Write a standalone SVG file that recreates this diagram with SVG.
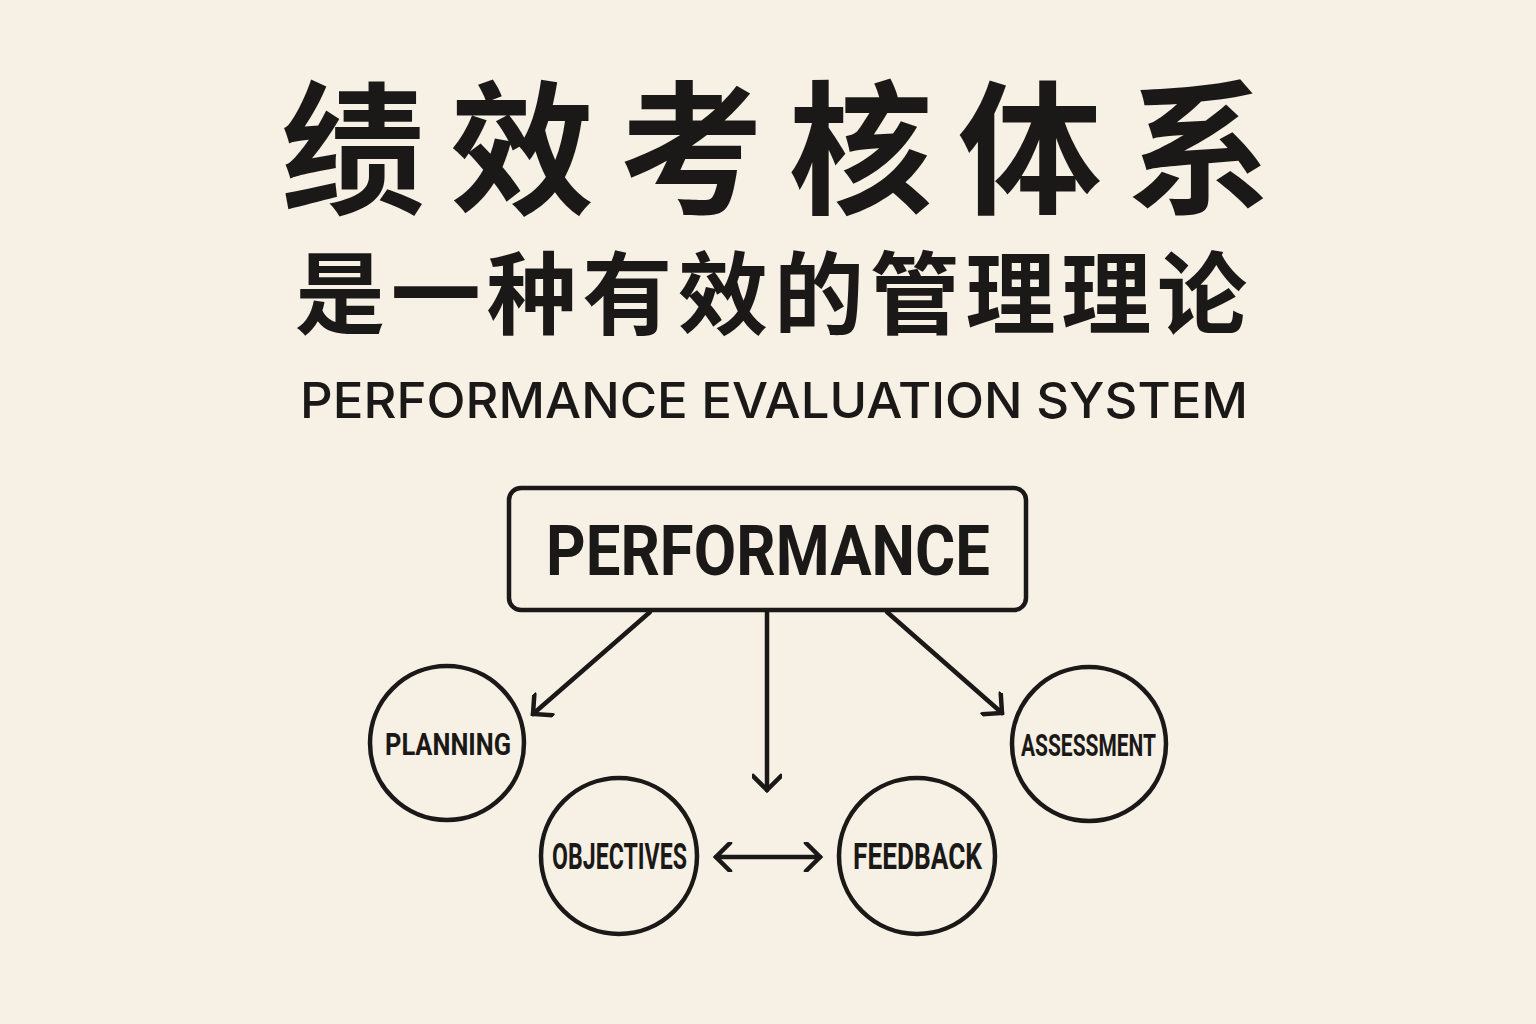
<svg xmlns="http://www.w3.org/2000/svg" width="1536" height="1024" viewBox="0 0 1536 1024">
<style>
.bg{fill:#f7f0e5}
.cjk{font-family:"Noto Sans CJK SC","Noto Sans",sans-serif;font-weight:700;fill:#1b1917}
.sub{font-family:Inter,"Liberation Sans",sans-serif;font-weight:500;fill:#1b1917}
.lbl{font-family:Roboto,"DejaVu Sans Condensed","Liberation Sans",sans-serif;font-weight:700;fill:#1b1917}
.shape{fill:none;stroke:#1b1917;stroke-width:4.5}
.conn{fill:none;stroke:#1b1917;stroke-width:4.5;stroke-linecap:round}
</style>
<defs>
<marker id="arr" markerUnits="userSpaceOnUse" viewBox="0 0 20 30" refX="17" refY="15" markerWidth="20" markerHeight="30" orient="auto-start-reverse">
<path d="M3,1 L17,15 L3,29" fill="none" stroke="#1b1917" stroke-width="4.5" stroke-linecap="round" stroke-linejoin="miter"/>
</marker>
</defs>
<rect class="bg" x="0" y="0" width="1536" height="1024"/>
<g id="title">
<text class="cjk" x="281" y="203" font-size="144" textLength="990" lengthAdjust="spacing">绩效考核体系</text>
<text class="cjk" x="295" y="327" font-size="90" textLength="952" lengthAdjust="spacing">是一种有效的管理理论</text>
<text class="sub" x="300" y="418" font-size="50" textLength="948" lengthAdjust="spacingAndGlyphs">PERFORMANCE EVALUATION SYSTEM</text>
</g>
<g id="connectors">
<line class="conn" x1="650" y1="612" x2="533" y2="714" marker-end="url(#arr)"/>
<line class="conn" x1="767" y1="612" x2="767" y2="790" marker-end="url(#arr)"/>
<line class="conn" x1="887" y1="612" x2="1002" y2="713" marker-end="url(#arr)"/>
<line class="conn" x1="716" y1="857" x2="820" y2="857" marker-start="url(#arr)" marker-end="url(#arr)"/>
</g>
<g id="node-performance">
<rect class="shape" x="509" y="488" width="517" height="122" rx="12"/>
<text class="lbl" x="546" y="575" font-size="70" textLength="444" lengthAdjust="spacingAndGlyphs">PERFORMANCE</text>
</g>
<g id="node-planning">
<circle class="shape" cx="447" cy="743" r="77"/>
<text class="lbl" x="385" y="755" font-size="32" textLength="126" lengthAdjust="spacingAndGlyphs">PLANNING</text>
</g>
<g id="node-objectives">
<circle class="shape" cx="619" cy="856" r="78"/>
<text class="lbl" x="552" y="869" font-size="36" textLength="135" lengthAdjust="spacingAndGlyphs">OBJECTIVES</text>
</g>
<g id="node-feedback">
<circle class="shape" cx="917" cy="856" r="78"/>
<text class="lbl" x="853" y="869" font-size="36" textLength="129" lengthAdjust="spacingAndGlyphs">FEEDBACK</text>
</g>
<g id="node-assessment">
<circle class="shape" cx="1089" cy="744" r="77"/>
<text class="lbl" x="1021" y="756" font-size="32" textLength="135" lengthAdjust="spacingAndGlyphs">ASSESSMENT</text>
</g>
</svg>
